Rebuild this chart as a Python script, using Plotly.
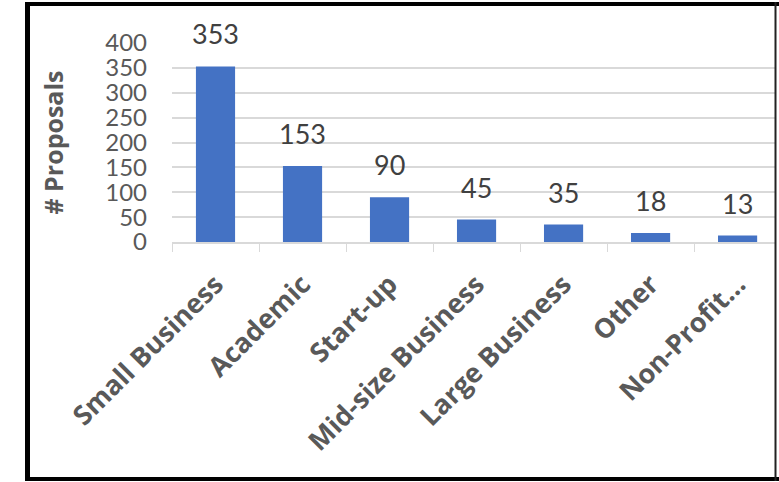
import plotly.graph_objects as go

categories = ["Small Business", "Academic", "Start-up", "Mid-size Business",
              "Large Business", "Other", "Non-Profit..."]
proposals = [353, 153, 90, 45, 35, 18, 13]
y_ticks = [0, 50, 100, 150, 200, 250, 300, 350, 400]

W, H = 779, 482
ML, MR, MT, MB = 172, 4, 43, 240
PW, PH = W - ML - MR, H - MT - MB

def px_x(x):
    return (x - ML) / PW

def px_y(y):
    return (H - MB - y) / PH

fig = go.Figure()
fig.add_trace(go.Bar(
    x=categories, y=proposals,
    marker=dict(color="#4472C4", line=dict(width=0)),
    width=0.45,
    hoverinfo="x+y",
))

for c, v in zip(categories, proposals):
    fig.add_annotation(x=c, y=v, text=str(v), showarrow=False,
                       yanchor="bottom", yshift=14,
                       font=dict(family="Lato", size=27, color="#404040"))

frame = dict(type="line", xref="paper", yref="paper")
fig.add_shape(**frame, x0=px_x(27.5), x1=px_x(27.5), y0=px_y(2), y1=px_y(481),
              line=dict(color="#000", width=5))
fig.add_shape(**frame, x0=px_x(25), x1=px_x(779), y0=px_y(4), y1=px_y(4),
              line=dict(color="#000", width=4))
fig.add_shape(**frame, x0=px_x(25), x1=px_x(779), y0=px_y(479), y1=px_y(479),
              line=dict(color="#000", width=4))
fig.add_shape(**frame, x0=px_x(775.5), x1=px_x(775.5), y0=px_y(2), y1=px_y(481),
              line=dict(color="#222", width=2))

fig.update_layout(
    width=W, height=H,
    margin=dict(l=ML, r=MR, t=MT, b=MB, pad=0),
    paper_bgcolor="white", plot_bgcolor="white",
    showlegend=False,
    font=dict(family="Lato", color="#595959"),
    xaxis=dict(
        range=[-0.5, 6.43],
        tickangle=-45,
        tickfont=dict(family="Open Sans", size=27, color="#595959", weight="bold"),
        showline=True, linecolor="#d9d9d9", linewidth=1.5,
        ticks="outside", tickson="boundaries", ticklen=8, tickcolor="#d9d9d9",
        ticklabelstandoff=14,
        showgrid=False, fixedrange=True,
    ),
    yaxis=dict(
        range=[0, 400],
        tickvals=y_ticks,
        tickfont=dict(family="Lato", size=24, color="#595959"),
        showgrid=True, gridcolor="#d9d9d9", gridwidth=1.5,
        zeroline=False, showline=False,
        ticklabelstandoff=24,
        title=dict(text="# Proposals", standoff=34,
                   font=dict(family="Open Sans", size=25, color="#595959", weight="bold")),
        fixedrange=True,
    ),
)
fig.update_traces(cliponaxis=False)

fig.write_html("out.html")
